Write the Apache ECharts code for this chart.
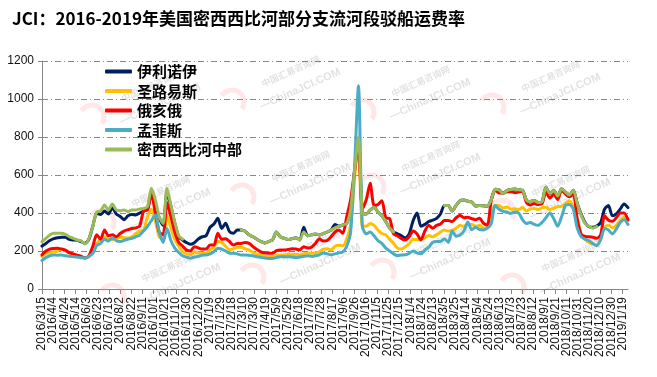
<!DOCTYPE html>
<html><head><meta charset="utf-8">
<script src="https://cdn.jsdelivr.net/npm/echarts@6/dist/echarts.min.js"></script>
<style>html,body{margin:0;padding:0;background:#fff}#c{width:657px;height:377px}</style>
</head><body><div id="c"></div><script>
// weekly observations starting 2016/3/15 (day 0), one every 7 days
const firstDay = '2016/3/15';
const stepDays = 7;
const seriesNames = ['伊利诺伊', '圣路易斯', '俄亥俄', '孟菲斯', '密西西比河中部'];
const yTicks = [0, 200, 400, 600, 800, 1000, 1200];
const xTickLabels = ['2016/3/15','2016/4/4','2016/4/24','2016/5/14','2016/6/3','2016/6/23','2016/7/13','2016/8/2','2016/8/22','2016/9/11','2016/10/1','2016/10/21','2016/11/10','2016/11/30','2016/12/20','2017/1/9','2017/1/29','2017/2/18','2017/3/10','2017/3/30','2017/4/19','2017/5/9','2017/5/29','2017/6/18','2017/7/8','2017/7/28','2017/8/17','2017/9/6','2017/9/26','2017/10/16','2017/11/5','2017/11/25','2017/12/15','2018/1/4','2018/1/24','2018/2/13','2018/3/5','2018/3/25','2018/4/14','2018/5/4','2018/5/24','2018/6/13','2018/7/3','2018/7/23','2018/8/12','2018/9/1','2018/9/21','2018/10/11','2018/10/31','2018/11/20','2018/12/10','2018/12/30','2019/1/19'];
const tickStepDays = 20;
const axisMaxDays = 1050;

const illinois = [226,240,255,265,270,273,272,262,258,257,
250,240,262,330,398,392,410,395,428,395,
382,365,385,392,390,400,410,420,510,440,
375,335,512,433,346,275,258,244,235,244,
263,275,280,324,342,372,319,346,302,293,
311,311,304,285,275,262,250,242,250,258,
300,275,267,260,265,270,258,325,280,285,
290,284,292,300,310,340,330,337,345,420,
620,790,400,395,415,430,405,385,355,320,
300,290,280,268,290,360,400,330,340,355,
362,372,395,440,440,410,440,465,468,462,
458,436,440,438,436,470,525,522,503,518,
524,526,522,520,468,460,466,455,460,535,
503,518,490,528,510,495,520,450,395,350,
328,325,332,350,420,440,385,395,420,448,428];

const stLouis = [172,188,192,195,200,212,200,190,180,175,
168,166,168,215,240,262,275,262,260,265,
272,270,268,275,292,305,311,380,420,360,
275,262,390,320,260,225,195,185,180,195,
190,188,188,205,220,250,245,225,207,212,
220,220,212,205,192,185,179,175,170,170,
178,179,179,183,180,182,180,185,190,188,
190,195,210,212,205,225,230,228,265,340,
580,780,330,330,345,335,310,292,285,262,
240,215,210,222,238,262,260,262,268,282,
275,285,300,310,305,310,320,335,330,340,
340,330,335,320,325,400,440,440,426,432,
420,422,418,430,410,422,424,418,428,430,
418,425,433,435,450,465,430,370,290,260,
245,235,232,262,326,336,322,335,362,378,370];

const ohio = [180,200,210,213,214,210,205,191,184,178,
172,163,175,225,285,262,311,280,286,275,
292,305,312,318,322,331,410,416,500,400,
300,285,455,381,300,245,225,205,200,223,
216,210,210,231,231,293,262,264,250,231,
240,240,245,240,223,208,196,190,188,188,
202,205,205,208,212,210,206,222,216,220,
240,265,252,255,275,300,310,293,380,470,
620,760,420,470,556,440,445,465,375,370,
290,280,265,258,275,305,290,258,305,335,
320,335,342,360,360,355,375,388,375,378,
370,365,372,346,337,468,521,505,505,512,
512,507,510,515,455,442,450,445,450,510,
478,500,470,520,500,485,500,370,288,277,
275,272,267,285,385,362,356,375,400,400,363];

const memphis = [150,165,175,179,178,179,175,172,170,168,
165,162,172,188,228,240,262,252,270,255,
250,256,262,267,275,284,305,330,360,390,
300,245,318,255,215,192,175,168,162,168,
172,178,179,185,196,215,210,200,188,188,
185,179,179,178,175,170,167,163,161,161,
166,170,170,170,168,165,168,172,175,172,
175,180,190,185,180,185,190,195,225,300,
640,1070,330,290,300,280,255,240,215,200,
185,175,179,180,188,200,190,185,205,220,
245,250,250,265,245,305,278,284,305,352,
312,325,313,311,320,345,440,420,409,405,
398,405,400,365,345,350,340,335,350,375,
400,370,330,380,440,445,420,320,275,262,
255,240,228,260,318,310,290,315,350,365,340];

const midMiss = [249,267,284,293,293,293,288,275,267,258,
253,237,265,330,405,410,442,416,447,416,
412,416,407,416,416,421,424,433,530,470,
380,345,530,440,350,280,262,null,null,null,
null,null,null,null,null,null,null,null,null,null,
null,311,304,285,275,262,250,242,250,258,
300,275,267,260,265,270,258,300,280,285,
290,284,292,300,310,322,330,337,345,420,
620,800,400,395,415,430,405,385,355,320,
300,null,null,null,null,null,null,null,null,null,
null,null,null,440,440,410,440,465,468,462,
458,436,440,438,436,470,525,522,503,518,
524,526,522,520,468,460,466,455,460,535,
503,518,490,528,510,495,520,450,390,345,
330,320,328,null,null,null,null,null,null,null,null];

const colors = ['#002060', '#FFC000', '#FF0000', '#4BACC6', '#9BBB59'];
const allValues = [illinois, stLouis, ohio, memphis, midMiss];

function toPoints(arr) { return arr.map((v, i) => [i * stepDays, v]); }

const W = 657, gridLeft = 42, gridRight = 29;
const plotW = W - gridLeft - gridRight;
const labelSpanDays = (xTickLabels.length - 1) * tickStepDays;
const labelGridRight = W - gridLeft - plotW * labelSpanDays / axisMaxDays;

const chart = echarts.init(document.getElementById('c'), null, {renderer: 'canvas'});

// faint watermark
const wm = [];
const wmPos = [[120, 95], [260, 80], [390, 90], [520, 85], [130, 200], [270, 175], [400, 165], [530, 190], [140, 275], [280, 255], [410, 250], [540, 265]];
wmPos.forEach(p => {
  wm.push({type: 'arc', z: 1, shape: {cx: p[0] - 28, cy: p[1] + 22, r: 12, startAngle: -2.6, endAngle: 0.6},
    style: {stroke: 'rgba(255,120,120,0.18)', lineWidth: 5, fill: null}});
  wm.push({type: 'text', z: 1, x: p[0], y: p[1], rotation: 0.42,
    style: {text: '中国汇易咨询网', fill: 'rgba(0,0,0,0.12)', font: 'bold 9px "Noto Sans CJK SC"'}});
  wm.push({type: 'text', z: 1, x: p[0] - 2, y: p[1] + 22, rotation: 0.42,
    style: {text: '—ChinaJCI.COM', fill: 'rgba(0,0,0,0.12)', font: 'bold 11px "Liberation Sans"'}});
});

chart.setOption({
  animation: false,
  backgroundColor: '#fff',
  title: {
    text: 'JCI：2016-2019年美国密西西比河部分支流河段驳船运费率',
    left: 12, top: 10, padding: 0,
    textStyle: {fontSize: 17, fontWeight: 'bold', color: '#000', fontFamily: '"Noto Sans CJK SC"'}
  },
  graphic: wm,
  legend: {
    orient: 'vertical', left: 105, top: 64, padding: 0, itemGap: 4.5,
    itemWidth: 27, itemHeight: 4, icon: 'roundRect',
    data: seriesNames,
    textStyle: {fontSize: 15, fontWeight: 'bold', color: '#000', fontFamily: '"Noto Sans CJK SC"'}
  },
  grid: [
    {left: gridLeft, right: gridRight, top: 61, bottom: 88, containLabel: false},
    {left: gridLeft, right: labelGridRight, top: 61, bottom: 88, containLabel: false}
  ],
  xAxis: [{
    gridIndex: 0, type: 'value', min: 0, max: axisMaxDays, interval: tickStepDays,
    axisLine: {show: true, lineStyle: {color: '#868686', width: 1}},
    axisTick: {show: false},
    splitLine: {show: false},
    axisLabel: {show: false}
  }, {
    gridIndex: 1, type: 'category', data: xTickLabels, boundaryGap: false,
    axisLine: {show: false},
    axisTick: {show: true, length: 5, interval: 0, lineStyle: {color: '#868686'}},
    splitLine: {show: false},
    axisLabel: {interval: 0, hideOverlap: false, rotate: 90, margin: 8, fontSize: 12, color: '#111',
      fontFamily: '"Liberation Sans", Arial'}
  }],
  yAxis: [{
    gridIndex: 0, type: 'value', min: 0, max: 1200, interval: 200,
    axisLine: {show: true, lineStyle: {color: '#868686', width: 1}},
    axisTick: {show: true, length: 4, lineStyle: {color: '#868686'}},
    splitLine: {show: true, lineStyle: {color: '#888', width: 1, type: [6, 3, 1, 3]}},
    axisLabel: {margin: 8, fontSize: 12, color: '#111', fontFamily: '"Liberation Sans", Arial',
      formatter: v => yTicks.indexOf(v) >= 0 ? String(v) : ''}
  }, {
    gridIndex: 1, type: 'value', min: 0, max: 1200, show: false
  }],
  series: seriesNames.map((n, k) => ({
    name: n, type: 'line', data: toPoints(allValues[k]),
    xAxisIndex: 0, yAxisIndex: 0,
    showSymbol: false, symbol: 'none', smooth: 0.25, connectNulls: false,
    color: colors[k],
    lineStyle: {width: 3, color: colors[k], cap: 'round', join: 'round'},
    z: 2 + k
  }))
});
</script></body></html>
